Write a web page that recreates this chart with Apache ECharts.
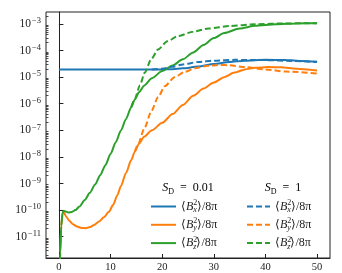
<!DOCTYPE html>
<html><head><meta charset="utf-8">
<script src="https://cdn.jsdelivr.net/npm/echarts@6/dist/echarts.min.js"></script>
<style>html,body{margin:0;padding:0;background:#fff}#c{width:342px;height:273px}</style>
</head><body><div id="c"></div><script>
// x ticks and y decade ticks
var xTicks = [0, 10, 20, 30, 40, 50];
var yMajor = [1e-11, 1e-10, 1e-9, 1e-8, 1e-7, 1e-6, 1e-5, 1e-4, 1e-3];
var yMinorMult = [2, 3, 4, 5, 6, 7, 8, 9];

// S_D = 0.01 (solid)
var tBxSolid = [0, 5, 10, 15, 20, 22, 24, 27, 30, 33, 36, 40, 44, 47, 50];
var bxSolid = [1.95e-5, 1.95e-5, 1.95e-5, 1.95e-5, 1.95e-5, 2.0e-5, 2.14e-5, 2.51e-5, 3.09e-5, 3.72e-5, 4.17e-5, 4.47e-5, 4.37e-5, 4.07e-5, 3.80e-5];

var tBySolid = [0, 0.25, 0.45, 0.7, 0.9, 1.4, 2, 2.7, 3.5, 4.4, 5.2, 6, 6.8, 7.8, 8.7, 9.7, 10.5, 11.3, 12, 13, 14, 14.7, 15.5, 16.5, 18, 20, 22, 24, 26, 28, 30, 32, 34, 36, 38, 40.5, 43, 46, 50];
var bySolid = [1e-14, 2.51e-12, 2.51e-11, 7.59e-11, 8.71e-11, 5.75e-11, 3.98e-11, 2.95e-11, 2.40e-11, 2.14e-11, 2.09e-11, 2.29e-11, 2.75e-11, 3.72e-11, 5.37e-11, 8.71e-11, 1.58e-10, 3.55e-10, 7.94e-10, 2.51e-9, 7.59e-9, 1.58e-8, 3.16e-8, 5.75e-8, 1.0e-7, 1.91e-7, 4.07e-7, 8.91e-7, 2.0e-6, 3.72e-6, 6.31e-6, 1.0e-5, 1.48e-5, 1.95e-5, 2.24e-5, 2.40e-5, 2.34e-5, 2.09e-5, 1.78e-5];

var tBzSolid = [0, 0.25, 0.45, 0.7, 0.9, 1.3, 1.8, 2.5, 3.2, 4, 5, 6, 7, 8, 9, 10, 11, 12, 13, 14, 14.7, 15.5, 16.5, 18, 20, 22, 24, 26, 28, 30, 32, 35, 38, 42, 46, 50];
var bzSolid = [1e-14, 2.51e-12, 2.51e-11, 7.59e-11, 9.55e-11, 8.91e-11, 8.13e-11, 8.51e-11, 1.0e-10, 1.38e-10, 2.40e-10, 4.47e-10, 9.12e-10, 2.04e-9, 4.90e-9, 1.29e-8, 3.55e-8, 9.77e-8, 2.69e-7, 7.41e-7, 1.45e-6, 2.69e-6, 4.79e-6, 9.12e-6, 1.70e-5, 2.75e-5, 4.68e-5, 8.51e-5, 1.62e-4, 2.95e-4, 4.57e-4, 6.76e-4, 8.51e-4, 9.77e-4, 1.05e-3, 1.07e-3];

// S_D = 1 (dashed), identical to solid before branching
var tBxDash = [18, 20, 22, 24, 27, 30, 34, 40, 45, 50];
var bxDash = [1.95e-5, 2.09e-5, 2.45e-5, 3.02e-5, 3.72e-5, 4.17e-5, 4.47e-5, 4.37e-5, 4.07e-5, 3.72e-5];

var tByDash = [14.7, 15.3, 16.6, 17.9, 19.2, 20.5, 22.4, 24.4, 26.3, 28.5, 31, 33, 36, 40, 44, 50];
var byDash = [1.58e-8, 2.82e-8, 1.26e-7, 5.25e-7, 1.74e-6, 4.57e-6, 1.0e-5, 1.58e-5, 2.14e-5, 2.63e-5, 2.88e-5, 2.82e-5, 2.40e-5, 1.95e-5, 1.62e-5, 1.38e-5];

var tBzDash = [14.0, 14.7, 15.7, 16.6, 17.9, 19.2, 21, 23, 26, 29, 33, 38, 44, 50];
var bzDash = [7.41e-7, 1.51e-6, 5.01e-6, 1.45e-5, 4.79e-5, 1.10e-4, 2.24e-4, 3.47e-4, 5.13e-4, 6.76e-4, 8.32e-4, 9.77e-4, 1.05e-3, 1.07e-3];

var C = { x: '#1f77b4', y: '#ff7f0e', z: '#2ca02c' };
var F = 'Liberation Serif';
var TXT = '#222';

function pairs(t, v) { return t.map(function (a, i) { return [a, v[i]]; }); }

var yMinor = [];
yMajor.concat([1e-12]).forEach(function (d) {
  yMinorMult.forEach(function (m) { yMinor.push(m * d); });
});

var chart = echarts.init(document.getElementById('c'), null, { renderer: 'canvas' });

function mk(name, t, v, color, dashed) {
  return {
    name: name, type: 'line', data: pairs(t, v), symbol: 'none', smooth: 0.25, smoothMonotone: 'x',
    lineStyle: { color: color, width: 2, type: dashed ? [6, 3] : 'solid' },
    itemStyle: { color: color }, silent: true, animation: false, z: dashed ? 3 : 2
  };
}

var legendRich = {
  t: { fontFamily: F, fontSize: 12, lineHeight: 15, color: TXT },
  i: { fontFamily: F, fontSize: 12, fontStyle: 'italic', lineHeight: 15, color: TXT },
  sup: { fontFamily: F, fontSize: 8, lineHeight: 8, verticalAlign: 'top', width: 0.01, color: TXT },
  sub: { fontFamily: F, fontSize: 8, fontStyle: 'italic', lineHeight: 8, verticalAlign: 'bottom', color: TXT }
};
function legendFmt(name) {
  var c = name.charAt(1);
  return '{t|\u27E8}{i|B}{sup|2}{sub|' + c + '}{t|\u27E9/8\u03C0}';
}
var legendCommon = {
  orient: 'vertical', top: 199, padding: 0, itemHeight: 10, itemGap: 3.3, selectedMode: false,
  formatter: legendFmt, textStyle: { rich: legendRich },
  itemStyle: { color: 'rgba(0,0,0,0)', borderColor: 'rgba(0,0,0,0)', borderWidth: 0 }
};

var titleRich = {
  i: { fontFamily: F, fontSize: 12, fontStyle: 'italic', lineHeight: 15, color: TXT },
  s: { fontFamily: F, fontSize: 8, lineHeight: 8, verticalAlign: 'bottom', color: TXT },
  n: { fontFamily: F, fontSize: 12, lineHeight: 15, color: TXT }
};

var option = {
  animation: false,
  backgroundColor: '#fff',
  grid: { left: 46, top: 12, right: 12, bottom: 14, show: true, borderColor: '#222', borderWidth: 1, backgroundColor: 'transparent' },
  xAxis: {
    type: 'value', min: -2.5, max: 52.5,
    axisLine: { show: true, onZero: false, lineStyle: { color: '#222', width: 1 } },
    axisTick: { show: true, inside: true, length: 4, customValues: xTicks, lineStyle: { color: '#222', width: 1 } },
    axisLabel: { customValues: xTicks, margin: 4, fontFamily: F, fontSize: 10.5, color: TXT },
    splitLine: { show: false }
  },
  yAxis: [{
    type: 'log', logBase: 10, min: 1.58e-12, max: 2.82e-3,
    axisLine: { show: true, lineStyle: { color: '#222', width: 1 } },
    axisTick: { show: true, inside: true, length: 4.5, customValues: yMajor, lineStyle: { color: '#222', width: 1 } },
    axisLabel: {
      customValues: yMajor, margin: 5,
      formatter: function (v) {
        var e = Math.round(Math.log10(v));
        return '{b|10}{s|' + (e < 0 ? '\u2212' : '') + Math.abs(e) + '}';
      },
      rich: {
        b: { fontFamily: F, fontSize: 11.5, lineHeight: 15, color: TXT, verticalAlign: 'middle' },
        s: { fontFamily: F, fontSize: 8.5, lineHeight: 9, color: TXT, verticalAlign: 'top', padding: [0, 0, 0, 1] }
      }
    },
    splitLine: { show: false }
  }, {
    type: 'log', logBase: 10, min: 1.58e-12, max: 2.82e-3, position: 'left',
    axisLine: { show: false },
    axisTick: { show: true, inside: true, length: 2.5, customValues: yMinor, lineStyle: { color: '#222', width: 0.8 } },
    axisLabel: { show: false },
    splitLine: { show: false }
  }],
  legend: [
    Object.assign({ data: ['bx1', 'by1', 'bz1'], left: 150, itemWidth: 25 }, legendCommon),
    Object.assign({ data: ['bxD', 'byD', 'bzD'], left: 246, itemWidth: 23 }, legendCommon)
  ],
  graphic: [{
    type: 'text', x: 188, y: 188,
    style: { text: '{i|S}{s|D}{n|\u2002=\u20020.01}', textAlign: 'center', textVerticalAlign: 'middle', rich: titleRich }
  }, {
    type: 'text', x: 283, y: 188,
    style: { text: '{i|S}{s|D}{n|\u2002=\u20021}', textAlign: 'center', textVerticalAlign: 'middle', rich: titleRich }
  }],
  series: [
    mk('bx1', tBxSolid, bxSolid, C.x, false),
    mk('by1', tBySolid, bySolid, C.y, false),
    mk('bz1', tBzSolid, bzSolid, C.z, false),
    mk('bxD', tBxDash, bxDash, C.x, true),
    mk('byD', tByDash, byDash, C.y, true),
    mk('bzD', tBzDash, bzDash, C.z, true)
  ]
};
chart.setOption(option);
</script></body></html>
